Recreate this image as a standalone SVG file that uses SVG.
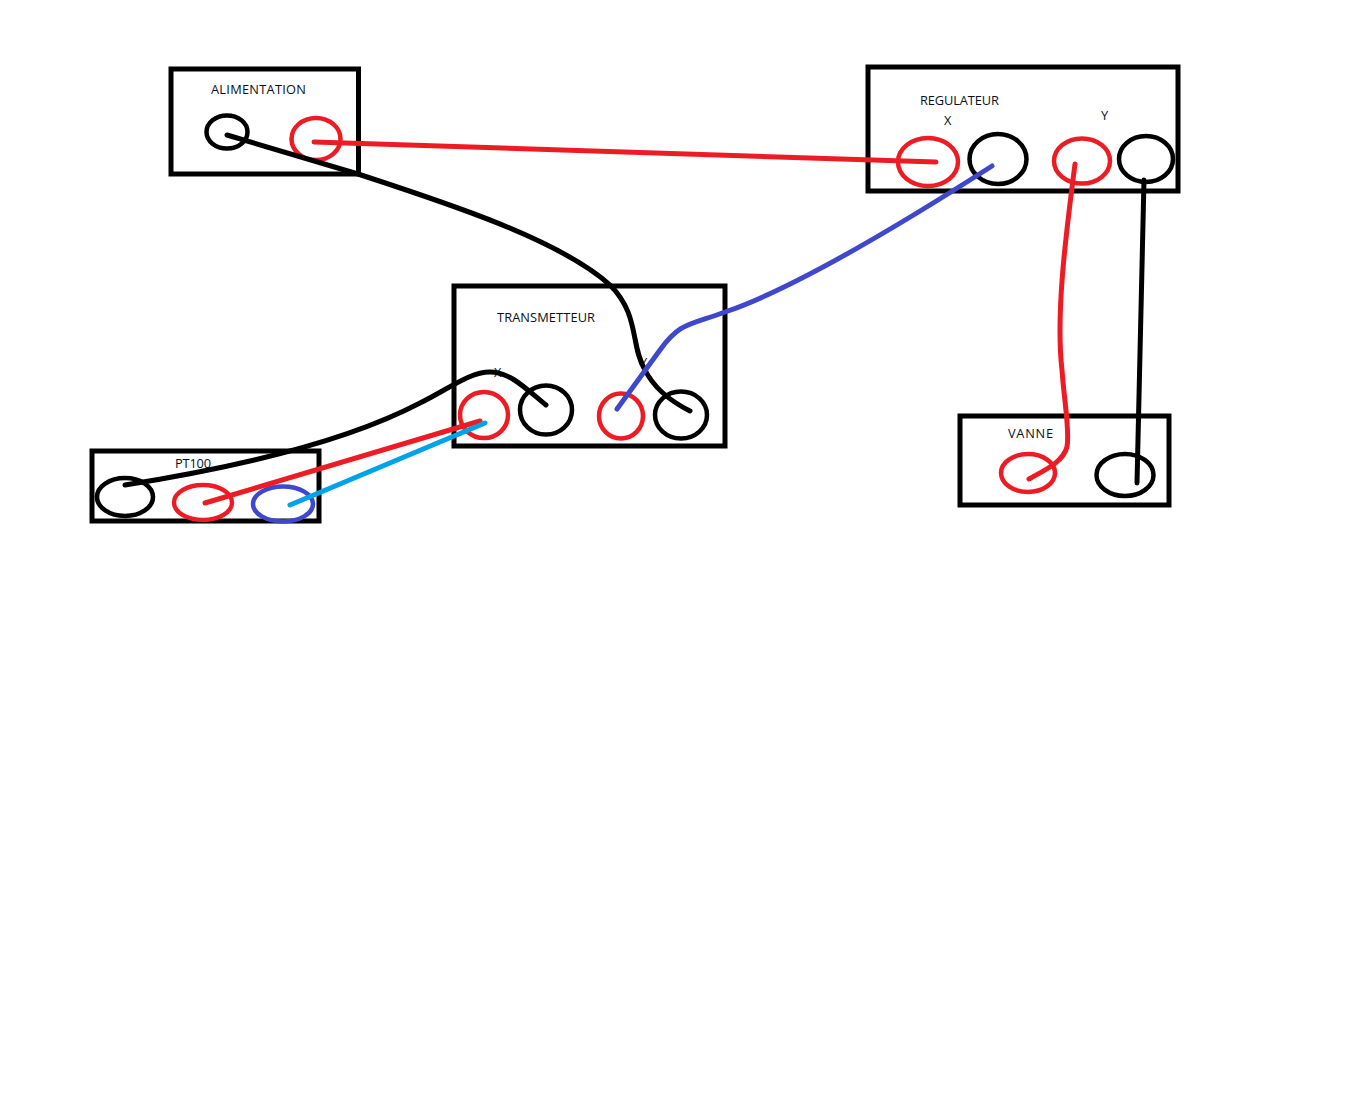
<svg xmlns="http://www.w3.org/2000/svg" width="1366" height="1108" viewBox="0 0 1366 1108">
<style>
.box{fill:none;stroke:#000;stroke-width:5}
.t{fill:none;stroke-width:4.500}
.k{stroke:#000}.r{stroke:#ed1c24}.b{stroke:#3f48cc}.c{stroke:#00a2e8}
.w{fill:none;stroke-width:5;stroke-linecap:round;stroke-linejoin:round}
text{font-family:"Open Sans","Noto Sans","Liberation Sans",sans-serif;font-size:12.800px;fill:#0a1020}
</style>
<rect width="1366" height="1108" fill="#fff"/>
<g id="alimentation"><rect class="box" x="171" y="69" width="187.500" height="105"/><text x="211" y="94" textLength="95">ALIMENTATION</text><ellipse class="t k" cx="227" cy="132" rx="20.500" ry="16.500"/><ellipse class="t r" cx="316" cy="139" rx="24.500" ry="21"/></g>
<g id="regulateur"><rect class="box" x="868" y="67" width="310" height="124"/><text x="920" y="105" textLength="79">REGULATEUR</text><text x="944" y="125">X</text><text x="1101" y="120">Y</text><ellipse class="t r" cx="928" cy="162" rx="30" ry="24"/><ellipse class="t k" cx="998" cy="159" rx="28.500" ry="25"/><ellipse class="t r" cx="1082" cy="161" rx="28" ry="22.500"/><ellipse class="t k" cx="1146" cy="159" rx="27" ry="23"/></g>
<g id="transmetteur"><rect class="box" x="454" y="286" width="271" height="160"/><text x="497" y="322" textLength="98">TRANSMETTEUR</text><text x="494" y="377" font-size="10">X</text><text x="640" y="367">Y</text><ellipse class="t r" cx="484" cy="415" rx="24" ry="23"/><ellipse class="t k" cx="546" cy="410" rx="26" ry="24.500"/><ellipse class="t r" cx="621" cy="416" rx="22" ry="22.500"/><ellipse class="t k" cx="681" cy="415" rx="26" ry="23.500"/></g>
<g id="pt100"><rect class="box" x="92" y="451" width="227" height="70"/><text x="175" y="468" textLength="36">PT100</text><ellipse class="t k" cx="125" cy="497" rx="28" ry="19"/><ellipse class="t r" cx="203" cy="502.500" rx="29" ry="17.500"/><ellipse class="t b" cx="283" cy="504" rx="30" ry="17.500"/></g>
<g id="vanne"><rect class="box" x="960" y="416" width="209" height="89"/><text x="1008" y="438" textLength="45">VANNE</text><ellipse class="t r" cx="1028" cy="473" rx="27" ry="19"/><ellipse class="t k" cx="1125" cy="475" rx="28.500" ry="21"/></g>
<g id="connectors">
<path class="w k" d="M227 135L358 174C450 204 560 240 610 285C640 315 630 345 645 370C655 390 672 402 690 411"/>
<path class="w r" d="M314 142L936 162"/>
<path class="w b" d="M617 409L660 350C680 322 690 325 725 312C790 290 900 225 992 166"/>
<path class="w k" d="M546 405C525 388 510 372 490 372C470 372 450 388 420 403C340 445 220 470 125 485"/>
<path class="w r" d="M205 503L480 421"/>
<path class="w c" d="M290 505L485 423"/>
<path class="w r" d="M1075 164C1068 220 1055 310 1062 370C1064 400 1070 430 1067 447C1063 462 1045 470 1029 479"/>
<path class="w k" d="M1144 180L1137 483"/>
</g>
</svg>
